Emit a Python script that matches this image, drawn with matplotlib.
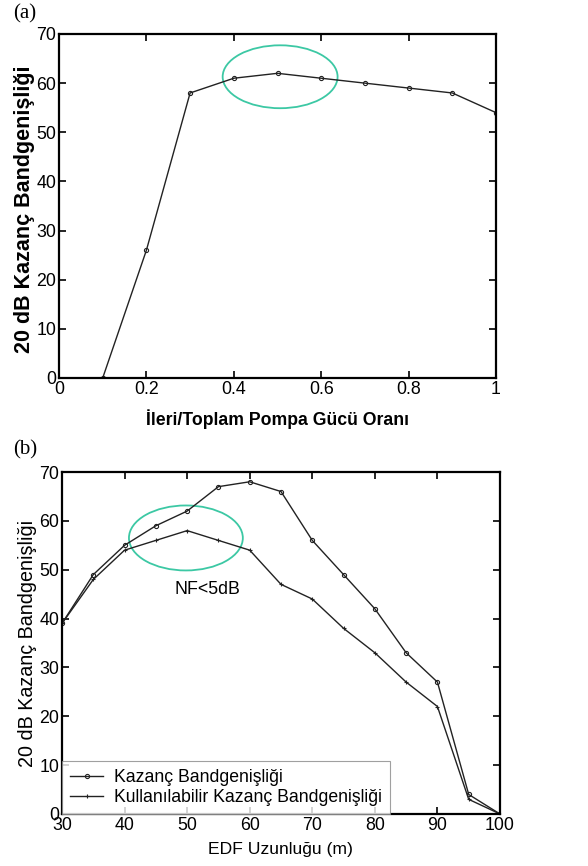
import matplotlib.pyplot as plt
from matplotlib.patches import Ellipse

plt.rcParams["font.family"] = ["Liberation Sans", "DejaVu Sans"]

# panel (a): forward / total pump power ratio
ratio = [0.1, 0.2, 0.3, 0.4, 0.5, 0.6, 0.7, 0.8, 0.9, 1.0]
bw_ratio = [0, 26, 58, 61, 62, 61, 60, 59, 58, 54]

# panel (b): EDF length
edf_len = [30, 35, 40, 45, 50, 55, 60, 65, 70, 75, 80, 85, 90, 95, 100]
bw_gain = [39, 49, 55, 59, 62, 67, 68, 66, 56, 49, 42, 33, 27, 4, 0]
bw_usable = [39, 48, 54, 56, 58, 56, 54, 47, 44, 38, 33, 27, 22, 3, 0]

ELLIPSE_COLOR = "#3cc8a4"
FS = 12.8


def style_axes(ax):
    ax.tick_params(direction="in", top=True, right=True, length=5,
                   width=1.2, labelsize=FS, pad=2)
    for sp in ax.spines.values():
        sp.set_linewidth(1.6)


fig = plt.figure(figsize=(5.88, 8.66), dpi=100)
W, H = 588, 866

# (a)
ax1 = fig.add_axes([59 / W, 1 - 378 / H, (496 - 59) / W, (378 - 34) / H])
ax1.plot(ratio, bw_ratio, color="#222222", linewidth=1.0, marker="o",
         markersize=3, markerfacecolor="none", markeredgewidth=0.8)
ax1.add_patch(Ellipse((0.506, 61.3), 0.263, 12.8, fill=False,
                      edgecolor=ELLIPSE_COLOR, linewidth=1.3))
ax1.set_xlim(0, 1)
ax1.set_ylim(0, 70)
ax1.set_xticks([0, 0.2, 0.4, 0.6, 0.8, 1])
ax1.set_xticklabels(["0", "0.2", "0.4", "0.6", "0.8", "1"])
ax1.set_yticks(range(0, 71, 10))
ax1.set_xlabel("İleri/Toplam Pompa Gücü Oranı", fontsize=12.7,
               fontweight="bold")
ax1.set_ylabel("20 dB Kazanç Bandgenişliği", fontsize=15.5,
               fontweight="bold")
ax1.xaxis.set_label_coords(0.5, -0.09)
ax1.yaxis.set_label_coords(-0.055, 0.49)
style_axes(ax1)
fig.text(13 / W, 1 - 14 / H, "(a)", fontsize=15,
         family=["Liberation Serif", "DejaVu Serif"], va="center")

# (b)
ax2 = fig.add_axes([62 / W, 1 - 814 / H, (500 - 62) / W, (814 - 472) / H])
ax2.plot(edf_len, bw_gain, color="#222222", linewidth=1.0, marker="o",
         markersize=3, markerfacecolor="none", markeredgewidth=0.8,
         label="Kazanç Bandgenişliği")
ax2.plot(edf_len, bw_usable, color="#222222", linewidth=1.0, marker="+",
         markersize=3.5, markeredgewidth=0.8,
         label="Kullanılabilir Kazanç Bandgenişliği")
ax2.add_patch(Ellipse((49.8, 56.5), 18.2, 13.3, fill=False,
                      edgecolor=ELLIPSE_COLOR, linewidth=1.3))
ax2.text(53.2, 46, "NF<5dB", fontsize=FS, ha="center", va="center")
ax2.set_xlim(30, 100)
ax2.set_ylim(0, 70)
ax2.set_xticks(range(30, 101, 10))
ax2.set_yticks(range(0, 71, 10))
ax2.set_xlabel("EDF Uzunluğu (m)", fontsize=12.6)
ax2.set_ylabel("20 dB Kazanç Bandgenişliği", fontsize=14.2)
ax2.xaxis.set_label_coords(0.5, -0.082)
ax2.yaxis.set_label_coords(-0.057, 0.5)
style_axes(ax2)
leg = ax2.legend(loc="lower left", fontsize=12.7, frameon=True, fancybox=False,
                 borderaxespad=0, handlelength=1.9, borderpad=0.45,
                 labelspacing=0.15, handletextpad=0.6)
leg.get_frame().set_edgecolor("#888888")
leg.get_frame().set_linewidth(0.8)
fig.text(13 / W, 1 - 450 / H, "(b)", fontsize=15,
         family=["Liberation Serif", "DejaVu Serif"], va="center")

fig.savefig("out.png", dpi=100)
